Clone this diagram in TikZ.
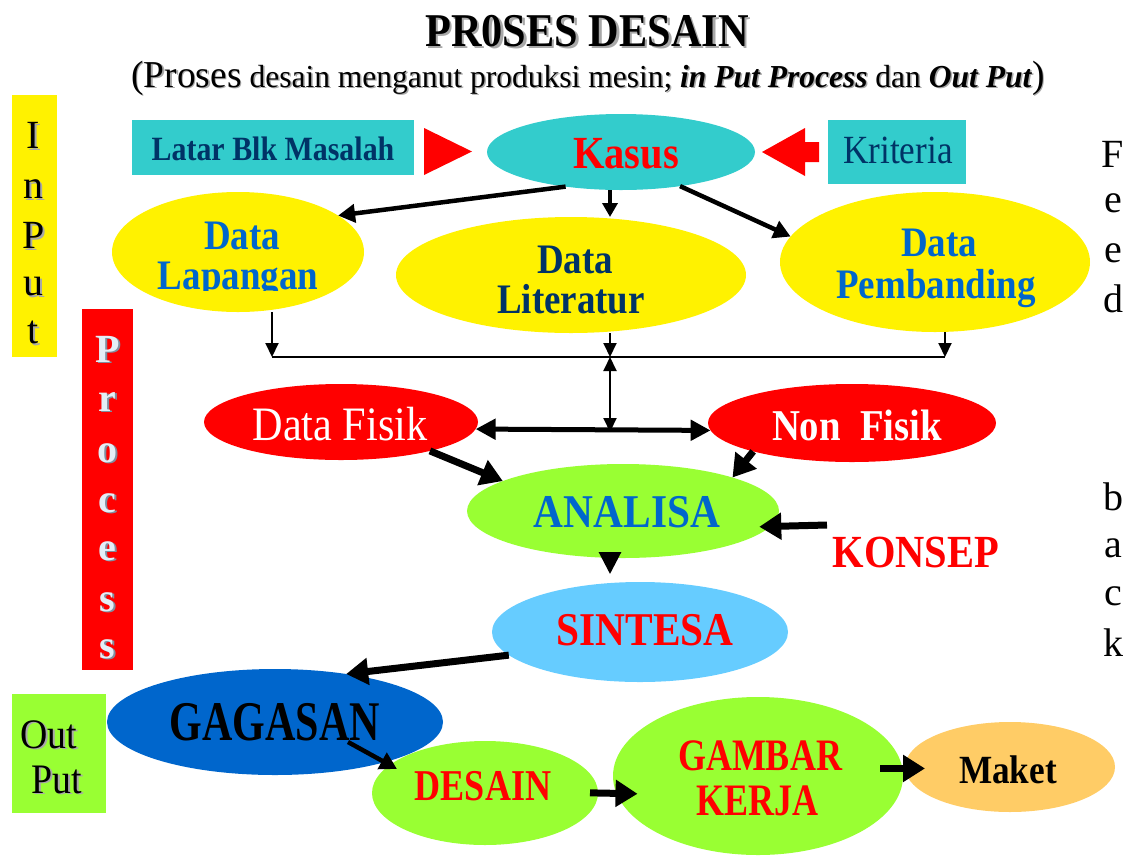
\documentclass[tikz,border=0pt]{standalone}
\usepackage{fontspec}
\setmainfont{Liberation Serif}
\usepackage{graphicx}
\usetikzlibrary{shapes.geometric,arrows.meta}
\definecolor{cyanbox}{HTML}{33CCCC}
\definecolor{dblue}{HTML}{003366}
\definecolor{mblue}{HTML}{0066CC}
\definecolor{lgreen}{HTML}{99FF33}
\definecolor{lblue}{HTML}{66CCFF}
\definecolor{orng}{HTML}{FFCC66}
\definecolor{procw}{HTML}{E4EEF6}
\definecolor{procsh}{HTML}{7F8FA0}
\definecolor{shad}{HTML}{A8A8A8}
\newcommand{\hs}[2]{\scalebox{#1}[1]{#2}}
\newcommand{\fs}[1]{\fontsize{#1}{#1}\selectfont}
\newcommand{\subtxt}{\fs{38}(Proses\fs{32} desain menganut produksi mesin; \textbf{\textit{in Put Process}} dan \textbf{\textit{Out Put}}\fs{38})}
\begin{document}
\begin{tikzpicture}[x=1pt,y=-1pt,
  ell/.style={ellipse, inner sep=0pt, outer sep=0pt},
  lbl/.style={inner sep=0pt, outer sep=0pt, anchor=base},
  box/.style={inner sep=0pt, outer sep=0pt},
  thinarr/.style={line width=2pt, -{Triangle[length=14pt,width=13pt]}},
  bigarr/.style={line width=4.5pt, -{Triangle[length=17pt,width=18pt]}},
  fatarr/.style={line width=7pt, -{Triangle[length=22pt,width=26pt]}}]
\useasboundingbox (0,0) rectangle (1130,855);

% title
\node[lbl, font=\fs{47}\bfseries, text=shad] (titlesh) at (589.5,48.5) {\hs{.9}{PR0SES DESAIN}};
\node[lbl, font=\fs{47}\bfseries] (title) at (587,46) {\hs{.9}{PR0SES DESAIN}};
\node[lbl, text=shad] (subtitlesh) at (589.5,88.5) {\hs{.985}{\subtxt}};
\node[lbl] (subtitle) at (588,87) {\hs{.985}{\subtxt}};

% side boxes
\node[box, fill=yellow, minimum width=45pt, minimum height=262pt] (inbox) at (34.5,226) {};
\foreach \c/\y [count=\i] in {I/148,n/198,P/248,u/295,t/343}{
  \node[lbl, font=\fs{40}, text=shad] (insh\i) at (35.5,\y+2) {\c};
  \node[lbl, font=\fs{40}] (in\i) at (33.5,\y) {\c};
}
\node[box, fill=red, minimum width=51pt, minimum height=361pt] (procbox) at (107.5,489.5) {};
\foreach \c/\y [count=\i] in {P/362,r/411,o/462,c/512,e/560,s/611,s/658}{
  \node[lbl, font=\fs{40}\bfseries, text=procsh] (prsh\i) at (109.5,\y+1.5) {\c};
  \node[lbl, font=\fs{40}\bfseries, text=procw] (pr\i) at (107.5,\y) {\c};
}
\node[box, fill=lgreen, minimum width=94pt, minimum height=119pt] (outbox) at (59,753.5) {};
\node[lbl, font=\fs{42}, text=shad] (outsh1) at (50.5,749.5) {\hs{.9}{Out}};
\node[lbl, font=\fs{42}] (out1) at (49,748) {\hs{.9}{Out}};
\node[lbl, font=\fs{42}, text=shad] (outsh2) at (58.5,794.5) {\hs{.9}{Put}};
\node[lbl, font=\fs{42}] (out2) at (57,793) {\hs{.9}{Put}};

% feed back
\foreach \c/\y [count=\i] in {F/167,e/212,e/262,d/312,b/510,a/557,c/605,k/656}{
  \node[lbl, font=\fs{40}] (fb\i) at (1113,\y) {\c};
}

% top row
\node[box, fill=cyanbox, minimum width=282pt, minimum height=55pt] (latar) at (273,147.5) {};
\node[lbl, font=\fs{34}\bfseries, text=dblue] (latart) at (273,160) {\hs{.88}{Latar Blk Masalah}};
\fill[red] (424,128) -- (472,151.5) -- (424,175) -- cycle;
\node[ell, fill=cyanbox, minimum width=268pt, minimum height=76pt] (kasus) at (621,152) {};
\node[lbl, font=\fs{46}\bfseries, text=red] (kasust) at (626,168) {\hs{.88}{Kasus}};
\fill[red] (762,152) -- (805,128) -- (805,142) -- (819,142) -- (819,162) -- (805,162) -- (805,176) -- cycle;
\node[box, fill=cyanbox, minimum width=138pt, minimum height=64pt] (krit) at (897,152) {};
\node[lbl, font=\fs{40}, text=dblue] (kritt) at (898,163) {\hs{.88}{Kriteria}};

% data ellipses
\node[ell, fill=yellow, minimum width=252pt, minimum height=120pt] (dlap) at (238,252) {};
\node[lbl, font=\fs{42}\bfseries, text=mblue] (dlap1) at (242,249) {\hs{.88}{Data}};
\begin{scope}
\clip (100,200) rectangle (380,290);
\node[lbl, font=\fs{42}\bfseries, text=mblue] (dlap2) at (238,289) {\hs{.88}{Lapangan}};
\end{scope}
\node[ell, fill=yellow, minimum width=350pt, minimum height=116pt] (dlit) at (571,275) {};
\node[lbl, font=\fs{42}\bfseries, text=dblue] (dlit1) at (575,273) {\hs{.88}{Data}};
\node[lbl, font=\fs{42}\bfseries, text=dblue] (dlit2) at (571,313) {\hs{.88}{Literatur}};
\node[ell, fill=yellow, minimum width=310pt, minimum height=140pt] (dpem) at (935,262) {};
\node[lbl, font=\fs{42}\bfseries, text=mblue] (dpem1) at (939,256) {\hs{.88}{Data}};
\node[lbl, font=\fs{42}\bfseries, text=mblue] (dpem2) at (936,298) {\hs{.88}{Pembanding}};

% middle
\node[ell, fill=red, minimum width=274pt, minimum height=76pt] (dfis) at (341,422) {};
\node[lbl, font=\fs{48}, text=white] (dfist) at (340,440) {\hs{.88}{Data Fisik}};
\node[ell, fill=red, minimum width=288pt, minimum height=78pt] (nfis) at (852,423) {};
\node[lbl, font=\fs{44}\bfseries, text=white] (nfist) at (857,440) {\hs{.88}{Non\ \ Fisik}};
\node[ell, fill=lgreen, minimum width=312pt, minimum height=94pt] (ana) at (623,511) {};
\node[lbl, font=\fs{47}\bfseries, text=mblue] (anat) at (627,527) {\hs{.88}{ANALISA}};
\node[lbl, font=\fs{46}\bfseries, text=red] (konsep) at (916,567) {\hs{.88}{KONSEP}};
\node[ell, fill=lblue, minimum width=296pt, minimum height=100pt] (sint) at (640,632) {};
\node[lbl, font=\fs{47}\bfseries, text=red] (sintt) at (645,645) {\hs{.88}{SINTESA}};

% bottom
\node[ell, fill=mblue, minimum width=336pt, minimum height=106pt] (gag) at (275,722) {};
\node[lbl, font=\fs{56}\bfseries] (gagt) at (275,740) {\hs{.75}{GAGASAN}};
\node[ell, fill=lgreen, minimum width=226pt, minimum height=104pt] (des) at (485,793) {};
\node[lbl, font=\fs{44}\bfseries, text=red] (dest) at (483,800) {\hs{.82}{DESAIN}};
\node[ell, fill=lgreen, minimum width=290pt, minimum height=158pt] (gam) at (758,776) {};
\node[lbl, font=\fs{45}\bfseries, text=red] (gam1) at (760,770) {\hs{.8}{GAMBAR}};
\node[lbl, font=\fs{45}\bfseries, text=red] (gam2) at (757,815) {\hs{.8}{KERJA}};
\node[ell, fill=orng, minimum width=210pt, minimum height=90pt] (mak) at (1010,767) {};
\node[lbl, font=\fs{40}\bfseries] (makt) at (1008,783) {\hs{.88}{Maket}};

% connectors
\coordinate (jl) at (272,357);
\coordinate (jm) at (610,357);
\coordinate (jr) at (945,357);
\coordinate (jc) at (610,432);
\draw[bigarr] (kasus.212) -- (dlap.20);
\draw[line width=3.5pt, -{Triangle[length=14pt,width=15pt]}] (kasus.south -| jm) -- (dlit.north -| jm);
\draw[bigarr] (kasus.-30) -- (dpem.170);
\draw[thinarr] (dlap.south -| jl) -- (jl);
\draw[thinarr] (dlit.south -| jm) -- (jm);
\draw[thinarr] (dpem.south -| jr) -- (jr);
\draw[line width=2.5pt] (jl) -- (jr);
\draw[line width=2pt, {Triangle[length=14pt,width=13pt]}-{Triangle[length=14pt,width=13pt]}] (jm) -- (jc);
\draw[line width=5pt, {Triangle[length=20pt,width=20pt]}-{Triangle[length=20pt,width=20pt]}] (dfis.-3) -- (nfis.183);
\draw[fatarr] (dfis.-18) -- (ana.166);
\draw[fatarr] (nfis.196) -- (ana.17);
\coordinate (kc) at (827,525);
\draw[fatarr, shorten >=-11pt] (kc) -- (ana.-6);
\draw[line width=3pt, -{Triangle[length=22pt,width=22pt]}, shorten <=-10pt, shorten >=8pt] (ana.south -| jm) -- (sint.north -| jm);
\draw[fatarr] (sint.190) -- (gag.34);
\coordinate (gd1) at (348,742);
\coordinate (gd2) at (397,769);
\draw[bigarr] (gd1) -- (gd2);
\draw[fatarr, shorten <=-8pt, shorten >=-21pt] (des.east) -- (gam.187);
\draw[fatarr, shorten <=-22pt, shorten >=-20pt] (gam.3) -- (mak.west |- gam.3);
\end{tikzpicture}
\end{document}
